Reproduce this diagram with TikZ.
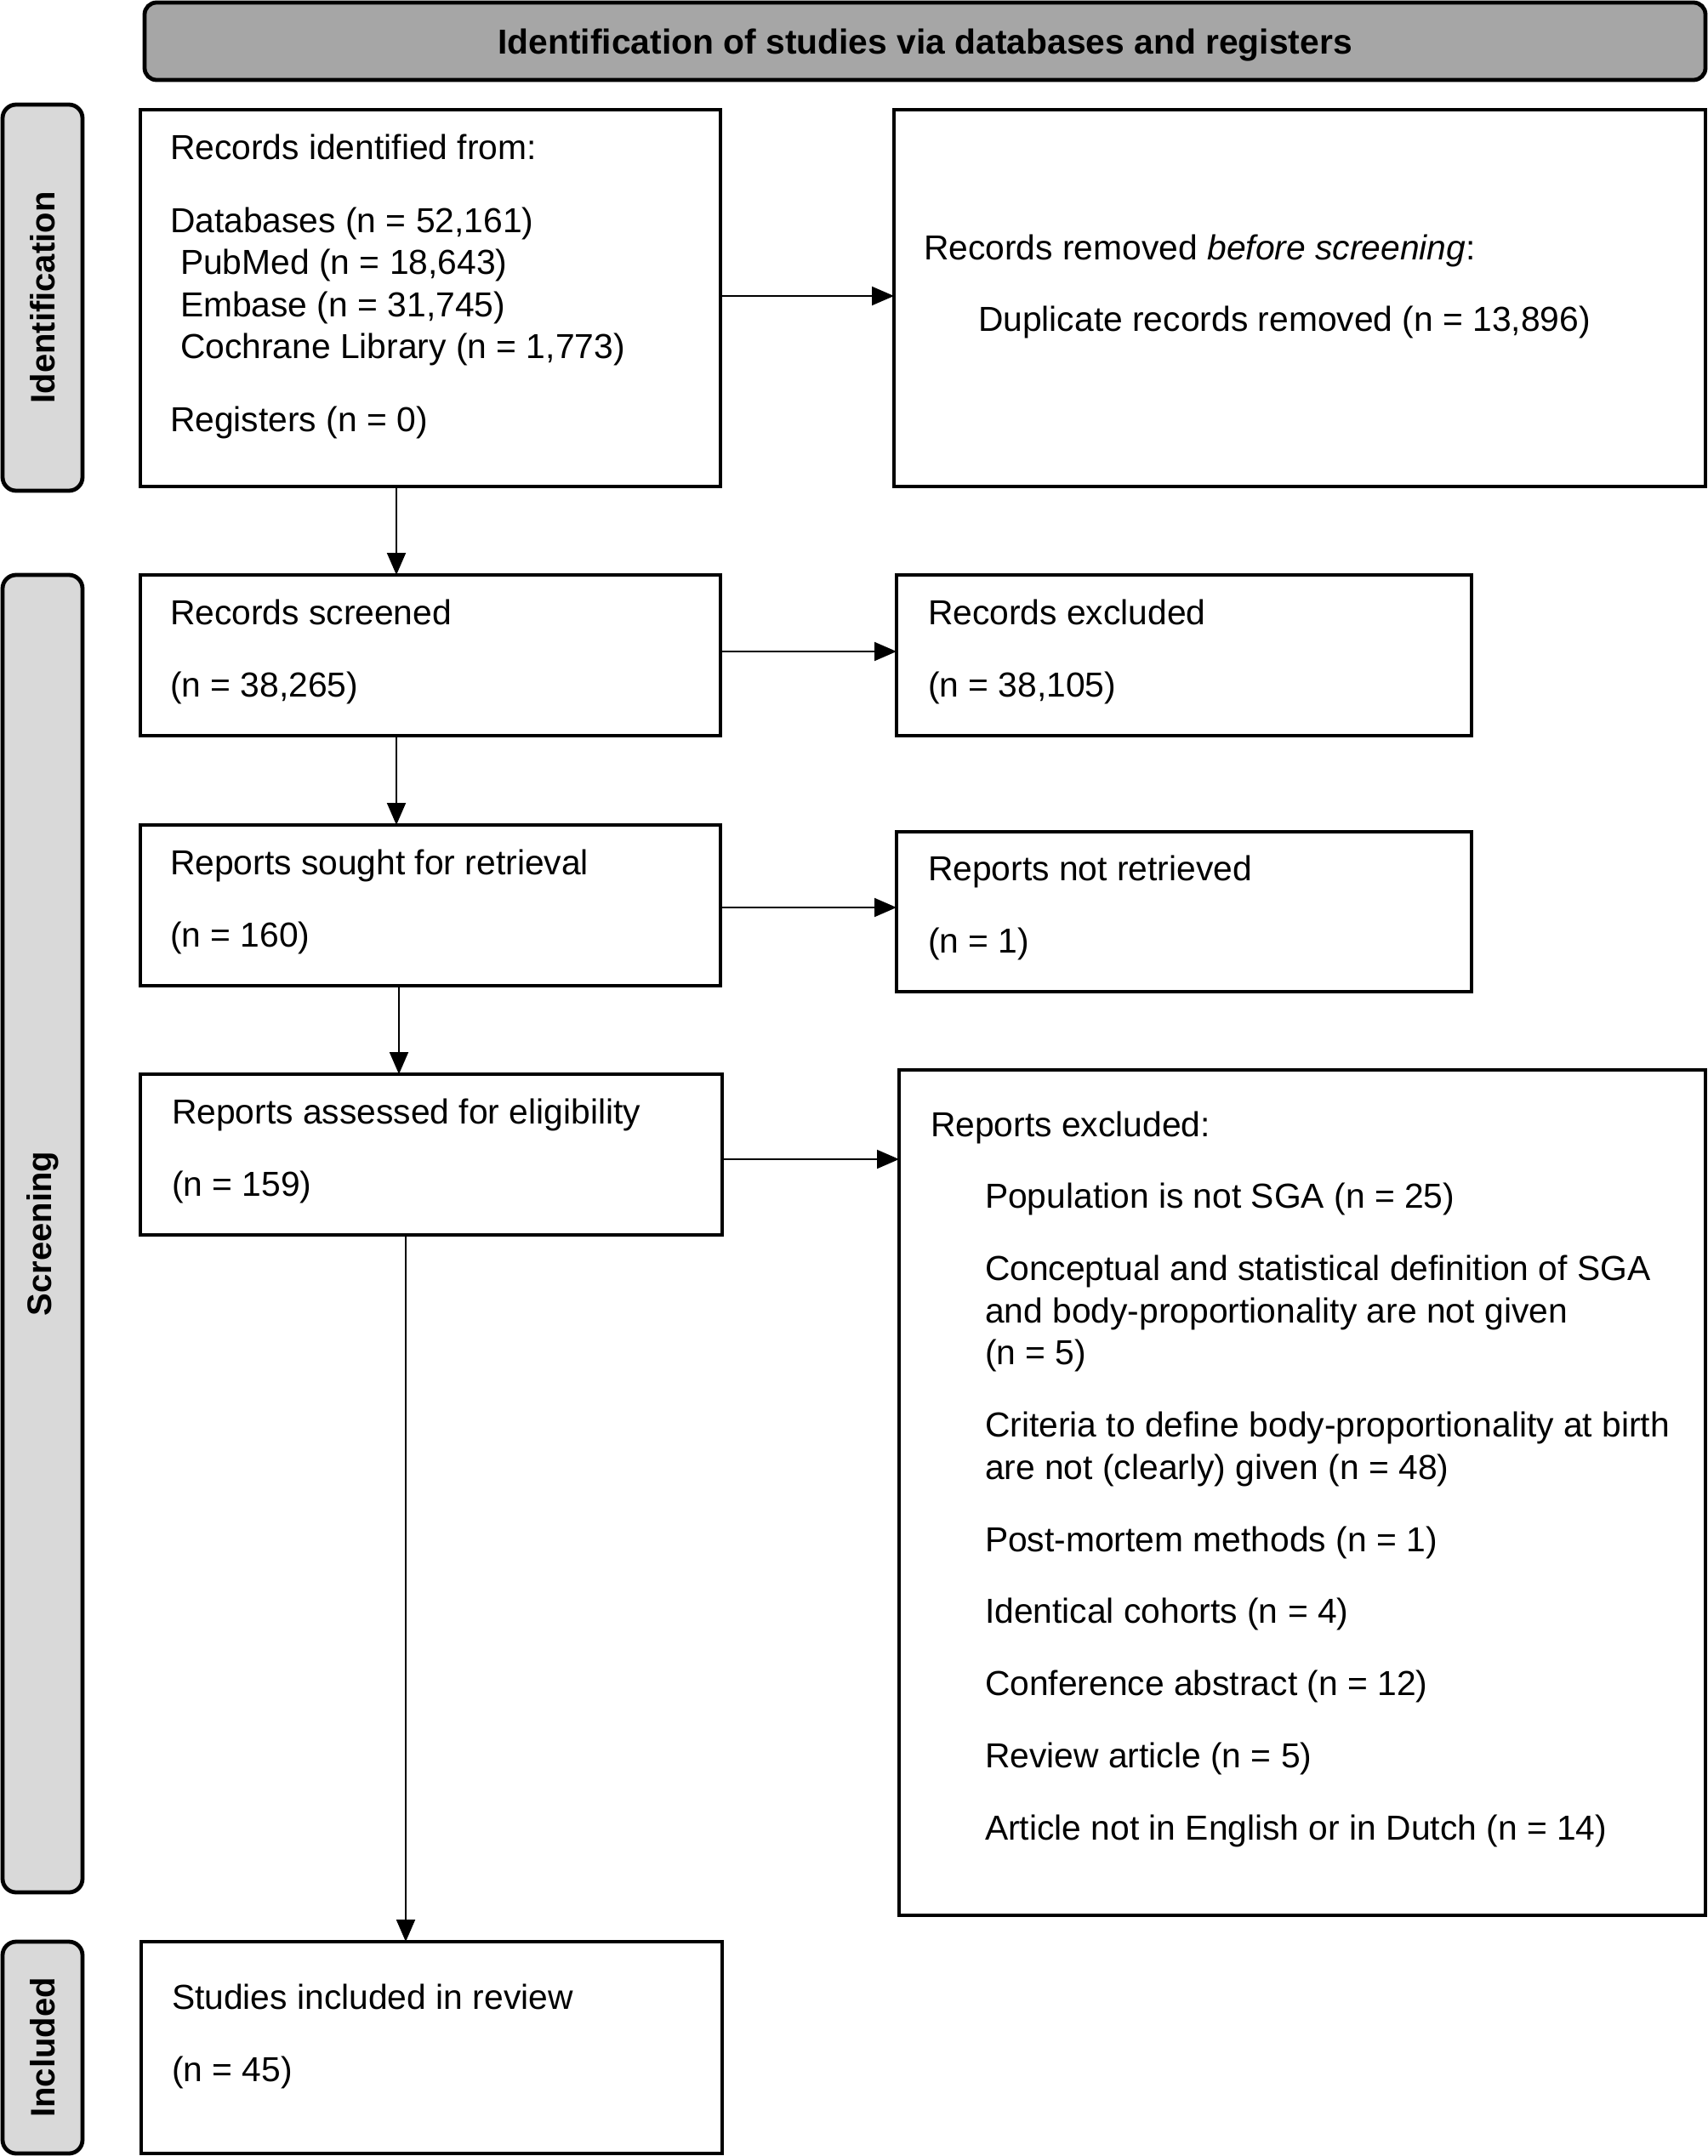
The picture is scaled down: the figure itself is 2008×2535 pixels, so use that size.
\documentclass[tikz,border=0pt]{standalone}
\usepackage{fontspec}
\setmainfont{Liberation Sans}
\usetikzlibrary{arrows.meta}
\definecolor{hdrgray}{HTML}{A6A6A6}
\definecolor{sidegray}{HTML}{D9D9D9}
\begin{document}
\begin{tikzpicture}[x=0.25pt,y=-0.25pt,
  box/.style={draw, line width=1pt, inner sep=0pt, outer sep=0pt, anchor=north west},
  txt/.style={anchor=north west, inner sep=0pt, outer sep=0pt, align=left, font=\fontsize{10.2pt}{12.4pt}\selectfont},
  side/.style={draw, line width=1.2pt, fill=sidegray, rounded corners=4pt, rotate=90, inner sep=0pt, outer sep=0pt, font=\fontsize{10pt}{12pt}\selectfont\bfseries, minimum height=23.5pt},
  arr/.style={line width=0.5pt, -{Triangle[length=6.5pt,width=5.5pt]}},
]
\useasboundingbox (0,0) rectangle (2008,2535);

% header
\node[draw, line width=1.2pt, fill=hdrgray, rounded corners=3.5pt, minimum width=458.75pt, minimum height=22.75pt, inner sep=0pt, text depth=0pt, font=\fontsize{10.2pt}{12.4pt}\selectfont\bfseries] (hdr) at (1087.5,48.5) {Identification of studies via databases and registers};

% side labels
\node[side, minimum width=113.5pt] (sid) at (50,350) {Identification};
\node[side, minimum width=387.25pt] (sscr) at (50,1450.5) {Screening};
\node[side, minimum width=62.25pt] (sinc) at (50,2407.5) {Included};

% boxes
\node[box, minimum width=170.5pt, minimum height=110.75pt] (recid) at (165,129) {};
\node[box, minimum width=238.5pt, minimum height=110.75pt] (recrem) at (1051,129) {};
\node[box, minimum width=170.5pt, minimum height=47.25pt] (recscr) at (165,676) {};
\node[box, minimum width=169pt, minimum height=47.25pt] (recexc) at (1054,676) {};
\node[box, minimum width=170.5pt, minimum height=47.25pt] (repsou) at (165,970) {};
\node[box, minimum width=169pt, minimum height=47pt] (repnot) at (1054,978) {};
\node[box, minimum width=171pt, minimum height=47.25pt] (repass) at (165,1263) {};
\node[box, minimum width=237pt, minimum height=248.5pt] (repexc) at (1057,1258) {};
\node[box, minimum width=170.75pt, minimum height=62.25pt] (incl) at (166,2283) {};

% texts
\node[txt] (recidT) at (200,147.5) {\rule{0pt}{10pt}Records identified from:\\[9pt]
Databases (n = 52,161)\\
\hspace*{3pt}PubMed (n = 18,643)\\
\hspace*{3pt}Embase (n = 31,745)\\
\hspace*{3pt}Cochrane Library (n = 1,773)\\[9pt]
Registers (n = 0)};
\node[txt] (recremT) at (1086,265.6) {\rule{0pt}{10pt}Records removed \textit{before screening}:\\[8.6pt]
\hspace*{16pt}Duplicate records removed (n = 13,896)};
\node[txt] (recscrT) at (200,694) {\rule{0pt}{10pt}Records screened\\[9pt](n = 38,265)};
\node[txt] (recexcT) at (1091,694) {\rule{0pt}{10pt}Records excluded\\[9pt](n = 38,105)};
\node[txt] (repsouT) at (200,988) {\rule{0pt}{10pt}Reports sought for retrieval\\[9pt](n = 160)};
\node[txt] (repnotT) at (1091,995) {\rule{0pt}{10pt}Reports not retrieved\\[9pt](n = 1)};
\node[txt] (repassT) at (202,1281) {\rule{0pt}{10pt}Reports assessed for eligibility\\[9pt](n = 159)};
\node[txt] (repexcT) at (1094,1296) {\rule{0pt}{10pt}Reports excluded:\\[8.8pt]
\hspace*{16pt}Population is not SGA (n = 25)\\[8.8pt]
\hspace*{16pt}Conceptual and statistical definition of SGA\\
\hspace*{16pt}and body-proportionality are not given\\
\hspace*{16pt}(n = 5)\\[8.8pt]
\hspace*{16pt}Criteria to define body-proportionality at birth\\
\hspace*{16pt}are not (clearly) given (n = 48)\\[8.8pt]
\hspace*{16pt}Post-mortem methods (n = 1)\\[8.8pt]
\hspace*{16pt}Identical cohorts (n = 4)\\[8.8pt]
\hspace*{16pt}Conference abstract (n = 12)\\[8.8pt]
\hspace*{16pt}Review article (n = 5)\\[8.8pt]
\hspace*{16pt}Article not in English or in Dutch (n = 14)};
\node[txt] (inclT) at (202,2322) {\rule{0pt}{10pt}Studies included in review\\[9pt](n = 45)};

% connector coordinates
\coordinate (vx1) at (466,0);
\coordinate (vx2) at (469,0);
\coordinate (vx3) at (477,0);
\coordinate (hy1) at (0,348);
\coordinate (hy2) at (0,766);
\coordinate (hy3) at (0,1067);
\coordinate (hy4) at (0,1363);

% connectors
\draw[arr] (recid.south -| vx1) -- (recscr.north -| vx1);
\draw[arr] (recscr.south -| vx1) -- (repsou.north -| vx1);
\draw[arr] (repsou.south -| vx2) -- (repass.north -| vx2);
\draw[arr] (repass.south -| vx3) -- (incl.north -| vx3);
\draw[arr] (recid.east |- hy1) -- (recrem.west |- hy1);
\draw[arr] (recscr.east |- hy2) -- (recexc.west |- hy2);
\draw[arr] (repsou.east |- hy3) -- (repnot.west |- hy3);
\draw[arr] (repass.east |- hy4) -- (repexc.west |- hy4);
\end{tikzpicture}
\end{document}
